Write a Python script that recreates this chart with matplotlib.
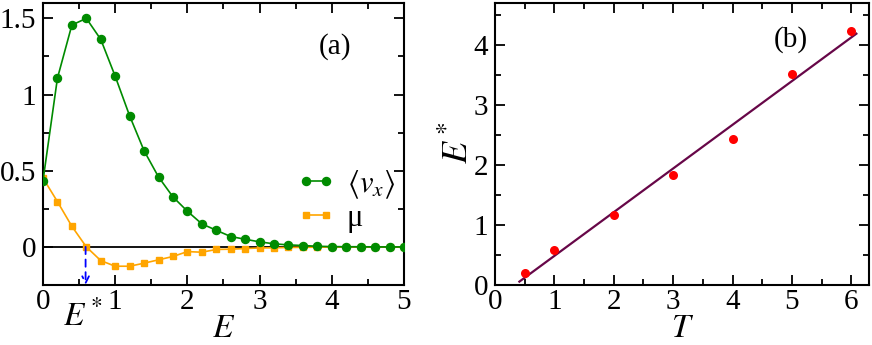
import numpy as np
import matplotlib
matplotlib.use("Agg")
import matplotlib.pyplot as plt
from matplotlib.ticker import MultipleLocator

plt.rcParams["font.family"] = "serif"
plt.rcParams["font.serif"] = ["Liberation Serif", "DejaVu Serif"]
plt.rcParams["mathtext.fontset"] = "stix"

# panel (a): drift velocity and mobility vs field E
E = [0.0, 0.2, 0.4, 0.6, 0.8, 1.0, 1.2, 1.4, 1.6, 1.8, 2.0, 2.2, 2.4,
     2.6, 2.8, 3.0, 3.2, 3.4, 3.6, 3.8, 4.0, 4.2, 4.4, 4.6, 4.8, 5.0]
vx = [0.434, 1.107, 1.456, 1.50, 1.362, 1.12, 0.86, 0.631, 0.459, 0.328,
      0.234, 0.151, 0.109, 0.068, 0.05, 0.033, 0.02, 0.013, 0.009, 0.004,
      0.002, 0.001, 0.001, 0.0, 0.0, 0.0]
mu = [0.452, 0.297, 0.135, 0.0, -0.09, -0.127, -0.127, -0.107, -0.085, -0.063,
      -0.031, -0.035, -0.017, -0.015, -0.011, -0.007, -0.006, -0.004, -0.003,
      -0.002, -0.001, -0.001, 0.0, 0.0, 0.0, 0.0]
E_star = 0.59

# panel (b): E* vs T with linear fit
T = [0.5, 1, 2, 3, 4, 5, 6]
Estar_T = [0.206, 0.583, 1.167, 1.828, 2.44, 3.51, 4.233]
fit_T = [0.41, 6.085]
fit_slope, fit_icpt = 0.7285, -0.243

GREEN, ORANGE, MAROON = "#008b00", "#ffa500", "#670748"

fig = plt.figure(figsize=(8.72, 3.45), dpi=100)
axa = fig.add_axes([0.0493, 0.174, 0.414, 0.817])
axb = fig.add_axes([0.5677, 0.174, 0.429, 0.817])


def style(ax):
    for sp in ax.spines.values():
        sp.set_linewidth(1.5)
    ax.tick_params(which="both", direction="in", top=True, right=True,
                   labelsize=21, width=1.3, pad=5)
    ax.tick_params(axis="x", which="both", pad=3)
    ax.tick_params(which="major", length=7)
    ax.tick_params(which="minor", length=4)


# --- (a)
axa.axhline(0, color="black", lw=1.3, zorder=1)
axa.plot(E, vx, "-o", color=GREEN, lw=1.2, ms=5.8, label=r"$\langle v_x \rangle$", zorder=3)
axa.plot(E, mu, "-s", color=ORANGE, lw=1.2, ms=4.8, label="μ", zorder=2)
axa.annotate("", xy=(E_star, -0.25), xytext=(E_star, 0),
             arrowprops=dict(arrowstyle="->", color="blue", lw=1.3, shrinkA=0, shrinkB=0,
                             linestyle=(0, (4, 3)), mutation_scale=12))
axa.set_xlim(0, 5)
axa.set_ylim(-0.25, 1.6)
axa.xaxis.set_major_locator(MultipleLocator(1))
axa.xaxis.set_minor_locator(MultipleLocator(0.5))
axa.yaxis.set_major_locator(MultipleLocator(0.5))
axa.yaxis.set_minor_locator(MultipleLocator(0.25))
axa.yaxis.set_major_formatter(plt.FuncFormatter(lambda v, p: f"{v:g}"))
style(axa)
axa.set_xlabel(r"$E$", fontsize=24, va="bottom")
axa.xaxis.set_label_coords(0.5, -0.208)
axa.text(0.55, -0.145, r"$E^*$", transform=axa.get_xaxis_transform(),
         ha="center", va="baseline", fontsize=24)
axa.text(0.81, 0.845, "(a)", transform=axa.transAxes, ha="center", va="center", fontsize=21)
axa.legend(loc="center left", bbox_to_anchor=(0.66, 0.30), frameon=False, fontsize=22,
           numpoints=2, handlelength=1.25, handletextpad=0.4, labelspacing=0.1,
           borderpad=0)

# --- (b)
xs = np.array(fit_T)
axb.plot(xs, fit_slope * xs + fit_icpt, color=MAROON, lw=1.6, zorder=2)
axb.plot(T, Estar_T, "o", color="red", ms=6.5, mec="none", zorder=3)
axb.set_xlim(0, 6.3)
axb.set_ylim(0, 4.7)
axb.xaxis.set_major_locator(MultipleLocator(1))
axb.xaxis.set_minor_locator(MultipleLocator(0.5))
axb.yaxis.set_major_locator(MultipleLocator(1))
axb.yaxis.set_minor_locator(MultipleLocator(0.5))
style(axb)
axb.set_xlabel(r"$T$", fontsize=24, va="bottom")
axb.xaxis.set_label_coords(0.5, -0.208)
axb.set_ylabel(r"$E^*$", fontsize=26, va="baseline")
axb.yaxis.set_label_coords(-0.072, 0.505)
axb.text(0.79, 0.87, "(b)", transform=axb.transAxes, ha="center", va="center", fontsize=21)

fig.savefig("out.png", dpi=100)
